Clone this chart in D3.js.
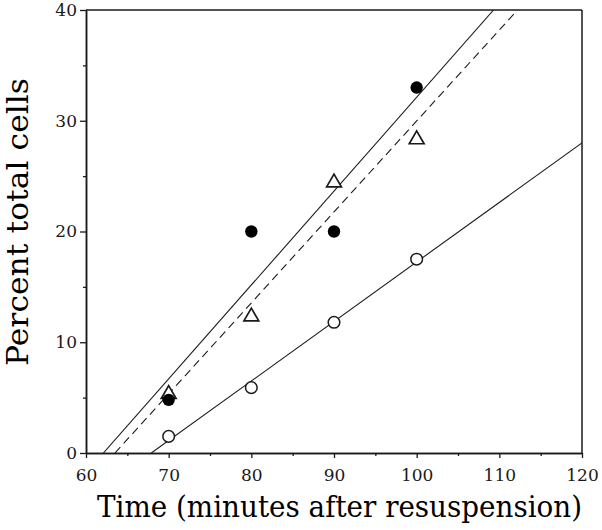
<!DOCTYPE html>
<html>
<head>
<meta charset="utf-8">
<script src="https://cdn.jsdelivr.net/npm/d3@7"></script>
<style>
  html, body { margin: 0; padding: 0; background: #fff; }
  svg { display: block; }
</style>
</head>
<body>
<svg id="chart" width="602" height="530"></svg>
<script>
// ---- data ----
const times = [70, 80, 90, 100];
const filledCircles = [4.8, 20.0, 20.0, 33.0];
const openTriangles = [5.4, 12.4, 24.5, 28.4];
const openCircles = [1.5, 5.9, 11.8, 17.5];
// fitted lines: [startTime, startValue, endTime, endValue]
const lineFilled = [62.1, 0, 109.3, 40];
const lineTriangles = [63.5, 0, 112.2, 40];
const lineOpen = [67.9, 0, 120, 28.0];
const xMajorTicks = [60, 70, 80, 90, 100, 110, 120];
const xMinorTicks = [65, 75, 85, 95, 105, 115];
const yMajorTicks = [0, 10, 20, 30, 40];
const yMinorTicks = [5, 15, 25, 35];
const xTitle = "Time (minutes after resuspension)";
const yTitle = "Percent total cells";

// ---- layout ----
const W = 602, H = 530;
const margin = { left: 86, top: 10, right: 20, bottom: 77 };
const iw = W - margin.left - margin.right;
const ih = H - margin.top - margin.bottom;
const FONT = "'DejaVu Serif', 'Liberation Serif', serif";
const INK = "#1a1a1a";

const svg = d3.select("#chart");
const g = svg.append("g").attr("transform", `translate(${margin.left},${margin.top})`);

const x = d3.scaleLinear().domain([60, 120]).range([0, iw]);
const y = d3.scaleLinear().domain([0, 40]).range([ih, 0]);

g.append("clipPath").attr("id", "plotclip")
  .append("rect").attr("x", 0).attr("y", 0).attr("width", iw).attr("height", ih);

// axes: minor ticks
const xMinor = g.append("g").attr("transform", `translate(0,${ih})`)
  .call(d3.axisBottom(x).tickValues(xMinorTicks).tickSize(3).tickSizeOuter(0).tickFormat(""));
const yMinor = g.append("g")
  .call(d3.axisLeft(y).tickValues(yMinorTicks).tickSize(3).tickSizeOuter(0).tickFormat(""));
// major
const xAxis = g.append("g").attr("transform", `translate(0,${ih})`)
  .call(d3.axisBottom(x).tickValues(xMajorTicks).tickSize(5).tickPadding(11).tickSizeOuter(0).tickFormat(d3.format("d")));
const yAxis = g.append("g")
  .call(d3.axisLeft(y).tickValues(yMajorTicks).tickSize(6).tickPadding(3).tickSizeOuter(0).tickFormat(d3.format("d")));

[xMinor, yMinor, xAxis, yAxis].forEach(a => {
  a.selectAll("path.domain").attr("stroke", INK).attr("stroke-width", 1.5);
  a.selectAll(".tick line").attr("stroke", INK).attr("stroke-width", 1.3);
  a.selectAll(".tick text").attr("fill", INK).style("font-family", FONT).style("font-size", "17px");
});

// box top & right
g.append("line").attr("x1", 0).attr("x2", iw).attr("y1", 0).attr("y2", 0)
  .attr("stroke", INK).attr("stroke-width", 1.5);
g.append("line").attr("x1", iw).attr("x2", iw).attr("y1", 0).attr("y2", ih)
  .attr("stroke", INK).attr("stroke-width", 1.5);

// fit lines
const lines = g.append("g").attr("clip-path", "url(#plotclip)");
function drawLine(p, dash) {
  lines.append("line")
    .attr("x1", x(p[0])).attr("y1", y(p[1]))
    .attr("x2", x(p[2])).attr("y2", y(p[3]))
    .attr("stroke", INK).attr("stroke-width", 1.1)
    .attr("stroke-dasharray", dash || null);
}
drawLine(lineFilled);
drawLine(lineTriangles, "8,5");
drawLine(lineOpen);

// markers
const tri = d3.symbol().type(d3.symbolTriangle).size(95);
g.append("g").selectAll("path").data(times.map((t, i) => [t, openTriangles[i]]))
  .join("path")
  .attr("d", tri)
  .attr("transform", d => `translate(${x(d[0])},${y(d[1]) + 1})`)
  .attr("fill", "#fff").attr("stroke", INK).attr("stroke-width", 1.7);

g.append("g").selectAll("circle").data(times.map((t, i) => [t, openCircles[i]]))
  .join("circle")
  .attr("cx", d => x(d[0])).attr("cy", d => y(d[1])).attr("r", 5.8)
  .attr("fill", "#fff").attr("stroke", INK).attr("stroke-width", 1.5);

g.append("g").selectAll("circle").data(times.map((t, i) => [t, filledCircles[i]]))
  .join("circle")
  .attr("cx", d => x(d[0])).attr("cy", d => y(d[1])).attr("r", 6.2)
  .attr("fill", "#000");

// titles
svg.append("text")
  .attr("x", 97).attr("y", 517)
  .attr("textLength", 485).attr("lengthAdjust", "spacingAndGlyphs")
  .style("font-family", FONT).style("font-size", "29px").attr("fill", "#000")
  .text(xTitle);

svg.append("text")
  .attr("transform", `translate(28,366) rotate(-90)`)
  .attr("textLength", 288).attr("lengthAdjust", "spacingAndGlyphs")
  .style("font-family", FONT).style("font-size", "30px").attr("fill", "#000")
  .text(yTitle);
</script>
</body>
</html>
